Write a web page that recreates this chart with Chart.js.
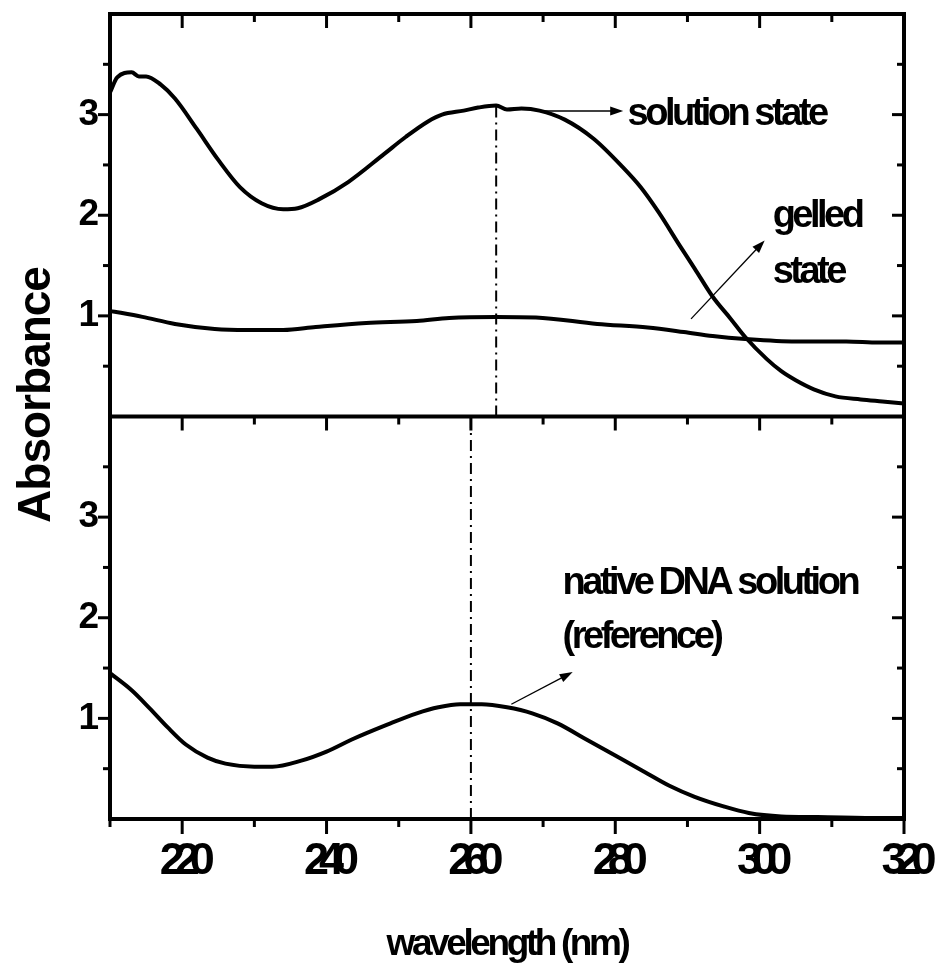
<!DOCTYPE html>
<html>
<head>
<meta charset="utf-8">
<script src="https://cdn.jsdelivr.net/npm/chart.js@4.4.1/dist/chart.umd.min.js"></script>
<style>
  html, body { margin: 0; padding: 0; background: #fff; }
  canvas { display: block; }
</style>
</head>
<body>
<canvas id="spectra" width="941" height="964"></canvas>
<script>
// UV absorbance spectra (wavelength in nm, absorbance in a.u.)
const solutionWl  = [210, 211, 213, 214, 215, 217, 219, 222, 225, 228, 231, 234, 236, 239, 243, 248, 251, 254, 256, 259, 261, 263.5, 265, 267, 269.5, 273, 277, 281, 283.5, 286, 289, 291, 293.5, 296, 298, 301, 303, 305, 307.5, 310.5, 314, 317, 320];
const solutionAbs = [3.22, 3.37, 3.42, 3.38, 3.38, 3.30, 3.16, 2.86, 2.55, 2.28, 2.12, 2.06, 2.07, 2.16, 2.33, 2.61, 2.78, 2.93, 3.00, 3.04, 3.07, 3.09, 3.05, 3.06, 3.04, 2.95, 2.76, 2.48, 2.28, 2.03, 1.69, 1.47, 1.19, 0.97, 0.79, 0.57, 0.45, 0.36, 0.27, 0.20, 0.17, 0.15, 0.13];

const gelledWl  = [210, 214.5, 219, 224.5, 229, 234, 238.5, 245.5, 252.5, 257, 263.5, 269, 277.5, 284.5, 289.5, 293.5, 298, 305, 312, 316.5, 320];
const gelledAbs = [1.05, 0.99, 0.92, 0.87, 0.86, 0.86, 0.89, 0.93, 0.95, 0.98, 0.99, 0.985, 0.92, 0.885, 0.84, 0.80, 0.77, 0.745, 0.745, 0.735, 0.735];

const nativeWl  = [210, 213, 215.5, 218, 220.5, 223.5, 226, 230, 232.5, 236.5, 240, 243.5, 248.5, 252.5, 255.5, 258.5, 261.5, 265, 268.5, 272, 276, 280, 284, 287.5, 291, 295, 298.5, 303, 308, 317, 320];
const nativeAbs = [1.45, 1.28, 1.10, 0.91, 0.74, 0.61, 0.55, 0.52, 0.52, 0.58, 0.67, 0.79, 0.94, 1.05, 1.11, 1.14, 1.14, 1.11, 1.05, 0.95, 0.79, 0.63, 0.47, 0.33, 0.22, 0.125, 0.06, 0.026, 0.02, 0.01, 0.01];

// absorption maxima marked with dash-dot lines
const solutionPeakWl = 263.5;
const nativePeakWl = 260;

// tick labels
const xTickLabels = [220, 240, 260, 280, 300, 320];
const yTickLabels = [1, 2, 3];

const FONT = '"Liberation Sans", Arial, Helvetica, sans-serif';

const toPoints = (xs, ys) => xs.map((x, i) => ({ x, y: ys[i] }));

const curve = (data, yAxisID) => ({
  data, yAxisID, xAxisID: 'x', showLine: true,
  borderColor: '#000', borderWidth: 4, pointRadius: 0,
  cubicInterpolationMode: 'monotone', fill: false
});
const marker = (wl, top, yAxisID) => ({
  data: [{ x: wl, y: 0 }, { x: wl, y: top }], yAxisID, xAxisID: 'x', showLine: true,
  borderColor: '#000', borderWidth: 2, borderDash: [11, 5, 2, 5], pointRadius: 0, tension: 0
});

function line(ctx, x0, y0, x1, y1) {
  ctx.beginPath(); ctx.moveTo(x0, y0); ctx.lineTo(x1, y1); ctx.stroke();
}
function arrow(ctx, x0, y0, x1, y1) {
  const a = Math.atan2(y1 - y0, x1 - x0), len = 13, hw = 4.5;
  ctx.lineWidth = 1.3;
  line(ctx, x0, y0, x1 - Math.cos(a) * len * 0.8, y1 - Math.sin(a) * len * 0.8);
  ctx.beginPath();
  ctx.moveTo(x1, y1);
  ctx.lineTo(x1 - Math.cos(a) * len - Math.sin(a) * hw, y1 - Math.sin(a) * len + Math.cos(a) * hw);
  ctx.lineTo(x1 - Math.cos(a) * len + Math.sin(a) * hw, y1 - Math.sin(a) * len - Math.cos(a) * hw);
  ctx.closePath(); ctx.fill();
}
function label(ctx, s, x, y, size, spacing) {
  ctx.font = `bold ${size}px ${FONT}`;
  ctx.letterSpacing = spacing + 'px';
  ctx.fillText(s, x, y);
}

// frame, tick marks on all sides, annotations and axis titles
const framePlugin = {
  id: 'frame',
  beforeDraw(chart) {
    chart.ctx.letterSpacing = '-10px';   // condensed wavelength labels
  },
  beforeDatasetsDraw(chart) {
    chart.ctx.letterSpacing = '0px';
  },
  afterDatasetsDraw(chart) {
    const { ctx, chartArea: a, scales } = chart;
    const x = scales.x, yt = scales.yTop, yb = scales.yBottom;
    ctx.save();
    ctx.strokeStyle = '#000'; ctx.fillStyle = '#000';
    ctx.lineCap = 'butt';

    // wavelength ticks
    ctx.lineWidth = 3;
    for (let v = 210; v <= 320; v += 10) {
      const px = x.getPixelForValue(v);
      const major = v % 20 === 0;
      line(ctx, px, a.bottom, px, a.bottom + (major ? 15 : 8));
      line(ctx, px, yt.top, px, yt.top + (major ? 14 : 8));
      line(ctx, px, yb.top, px, yb.top + (major ? 14 : 8));
    }
    // absorbance ticks
    for (const s of [yt, yb]) {
      for (let v = 0.5; v < 4; v += 0.5) {
        const py = s.getPixelForValue(v);
        const major = Number.isInteger(v);
        line(ctx, a.left, py, a.left - (major ? 12 : 7), py);
        line(ctx, a.right, py, a.right - (major ? 12 : 7), py);
      }
    }
    // panel frames
    ctx.lineWidth = 4;
    ctx.strokeRect(a.left, a.top, a.right - a.left, a.bottom - a.top);
    line(ctx, a.left, yb.top, a.right, yb.top);

    // arrows
    arrow(ctx, x.getPixelForValue(269.5), yt.getPixelForValue(3.036), x.getPixelForValue(281.1), yt.getPixelForValue(3.036));
    arrow(ctx, x.getPixelForValue(290.5), yt.getPixelForValue(0.97), x.getPixelForValue(300.7), yt.getPixelForValue(1.75));
    arrow(ctx, x.getPixelForValue(265.6), yb.getPixelForValue(1.14), x.getPixelForValue(274.1), yb.getPixelForValue(1.46));

    // annotations
    ctx.textAlign = 'left'; ctx.textBaseline = 'alphabetic';
    label(ctx, 'solution state', x.getPixelForValue(281.7), yt.getPixelForValue(2.896), 38, -3.5);
    label(ctx, 'gelled', x.getPixelForValue(301.8), yt.getPixelForValue(1.88), 38, -3.5);
    label(ctx, 'state', x.getPixelForValue(301.8), yt.getPixelForValue(1.33), 38, -3.5);
    label(ctx, 'native DNA solution', x.getPixelForValue(272.7), yb.getPixelForValue(2.24), 38, -3.5);
    label(ctx, '(reference)', x.getPixelForValue(272.7), yb.getPixelForValue(1.70), 38, -3.5);
    ctx.restore();
  },
  afterDraw(chart) {
    const { ctx, chartArea: a } = chart;
    ctx.save();
    ctx.fillStyle = '#000';
    ctx.textAlign = 'center'; ctx.textBaseline = 'alphabetic';
    // axis titles
    label(ctx, 'wavelength (nm)', (a.left + a.right) / 2, 955, 37, -3.4);
    ctx.translate(50, 395);
    ctx.rotate(-Math.PI / 2);
    label(ctx, 'Absorbance', 0, 0, 46, -1);
    ctx.restore();
  }
};

const yAxis = (weight) => ({
  type: 'linear', position: 'left', stack: 'absorbance', stackWeight: 1, weight,
  min: 0, max: 4, z: 1,
  grid: { display: false, drawTicks: false }, border: { display: false },
  ticks: {
    stepSize: 0.5, autoSkip: false, padding: 21,
    color: '#000', font: { family: FONT, size: 37, weight: 'bold' },
    callback: (v) => yTickLabels.includes(v) ? String(v) : ''
  },
  afterFit: (s) => { s.width = 110; s.paddingTop = 0; s.paddingBottom = 0; }
});

new Chart(document.getElementById('spectra'), {
  type: 'scatter',
  data: {
    datasets: [
      curve(toPoints(solutionWl, solutionAbs), 'yTop'),
      curve(toPoints(gelledWl, gelledAbs), 'yTop'),
      curve(toPoints(nativeWl, nativeAbs), 'yBottom'),
      marker(solutionPeakWl, solutionAbs[solutionWl.indexOf(solutionPeakWl)], 'yTop'),
      marker(nativePeakWl, 4, 'yBottom')
    ]
  },
  options: {
    responsive: false, animation: false, devicePixelRatio: 1,
    layout: { autoPadding: false, padding: { top: 14, right: 37, left: 0, bottom: 0 } },
    plugins: { legend: { display: false }, tooltip: { enabled: false } },
    scales: {
      x: {
        type: 'linear', position: 'bottom', min: 210, max: 320,
        grid: { display: false, drawTicks: false }, border: { display: false },
        ticks: {
          stepSize: 10, autoSkip: false, maxRotation: 0, padding: 16,
          color: '#000', font: { family: FONT, size: 45, weight: 'bold' },
          callback: (v) => xTickLabels.includes(v) ? String(v) : ''
        },
        afterFit: (s) => { s.height = 145; s.paddingLeft = 0; s.paddingRight = 0; }
      },
      yTop: yAxis(2),
      yBottom: yAxis(1)
    }
  },
  plugins: [framePlugin]
});
</script>
</body>
</html>
